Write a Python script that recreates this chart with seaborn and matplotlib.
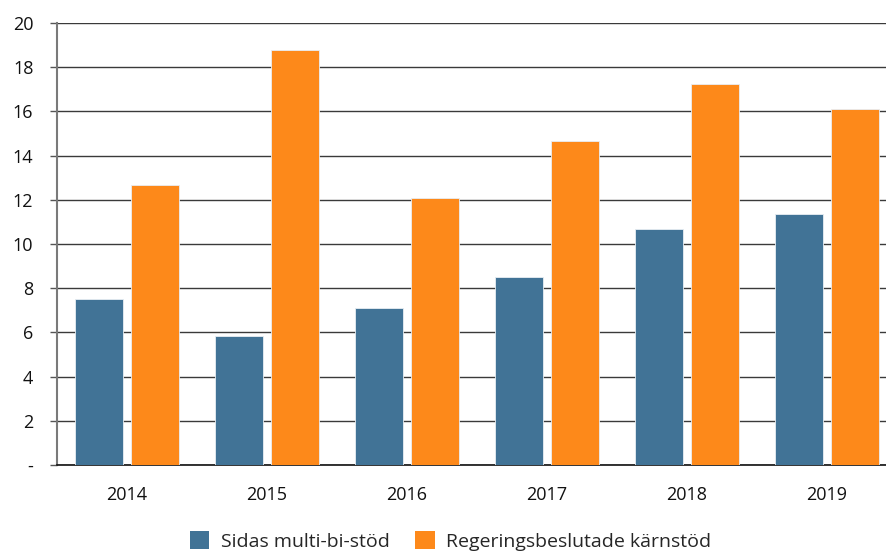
import pandas as pd
import matplotlib.pyplot as plt
import seaborn as sns
from matplotlib.patches import Patch

# Data
years = ["2014", "2015", "2016", "2017", "2018", "2019"]
multi_bi = [7.5, 5.85, 7.1, 8.5, 10.7, 11.35]
karnstod = [12.65, 18.8, 12.1, 14.65, 17.25, 16.1]
series_names = ["Sidas multi-bi-stöd", "Regeringsbeslutade kärnstöd"]
colors = ["#417396", "#FD891A"]
y_ticks = [0, 2, 4, 6, 8, 10, 12, 14, 16, 18, 20]
y_labels = ["-", "2", "4", "6", "8", "10", "12", "14", "16", "18", "20"]

df = pd.DataFrame({
    "year": years * 2,
    "value": multi_bi + karnstod,
    "series": [series_names[0]] * len(years) + [series_names[1]] * len(years),
})

sns.set_style("white")
plt.rcParams["font.family"] = ["Open Sans", "DejaVu Sans"]

fig = plt.figure(figsize=(8.87, 5.53), dpi=100)
# axes spans a bit past the right edge, as in the reference
ax = fig.add_axes([57 / 887, 88 / 553, 840 / 887, 442 / 553])

sns.barplot(data=df, x="year", y="value", hue="series", palette=colors,
            saturation=1, width=0.8, gap=0.14, edgecolor="#e8eef3",
            linewidth=0.6, legend=False, ax=ax, zorder=3)

ax.set_xlim(-0.5, 5.5)
ax.set_ylim(0, 20)
ax.set_yticks(y_ticks)
ax.set_yticklabels(y_labels)
ax.set_xlabel("")
ax.set_ylabel("")

ax.grid(axis="y", color="#3a3a3a", linewidth=1.0, zorder=0)
ax.grid(axis="x", visible=False)
for side in ["top", "right"]:
    ax.spines[side].set_visible(False)
ax.spines["left"].set_color("#7a7a7a")
ax.spines["left"].set_linewidth(1.5)
ax.spines["bottom"].set_color("#111111")
ax.spines["bottom"].set_linewidth(1.2)

ax.tick_params(axis="y", length=5, width=1, color="#555555", pad=12,
               labelsize=13, labelcolor="#111111", left=True)
ax.tick_params(axis="x", length=0, pad=15, labelsize=13, labelcolor="#111111")

handles = [Patch(facecolor=c, edgecolor="none") for c in colors]
fig.legend(handles, series_names, loc="center", bbox_to_anchor=(0.508, 12 / 553),
           ncol=2, frameon=False, fontsize=14, handlelength=1.0, handleheight=1.0,
           handletextpad=0.6, columnspacing=1.3, borderaxespad=0)

fig.savefig("out.png", dpi=100)
